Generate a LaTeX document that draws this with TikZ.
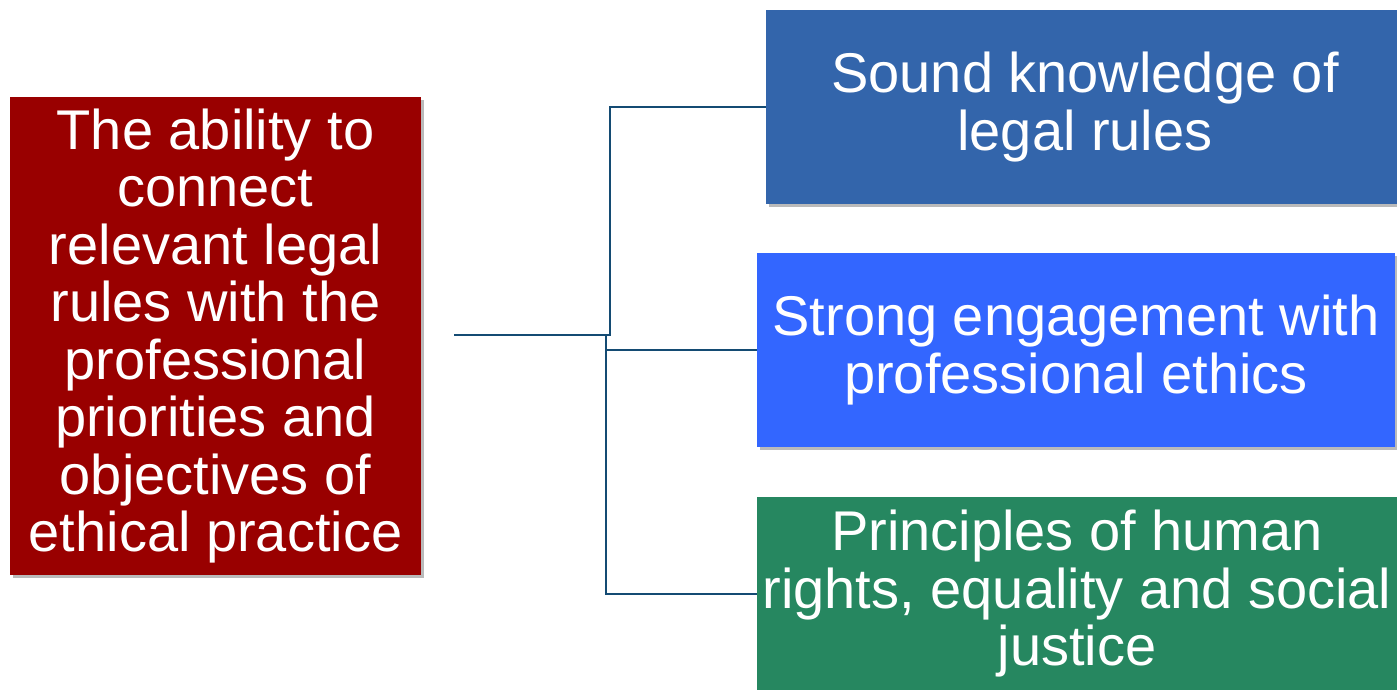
\documentclass[tikz,border=0pt]{standalone}
\usepackage{fontspec}
\setmainfont{Liberation Sans}
\usetikzlibrary{shadows}
\definecolor{boxred}{RGB}{153,0,0}
\definecolor{boxblueA}{RGB}{51,101,171}
\definecolor{boxblueB}{RGB}{51,102,255}
\definecolor{boxgreen}{RGB}{38,135,96}
\definecolor{connblue}{RGB}{20,75,115}
\tikzset{
  cardbox/.style={rectangle, inner sep=0pt, text=white, align=center,
    font=\fontsize{56}{57.5}\selectfont,
    drop shadow={shadow xshift=3pt, shadow yshift=-3pt, opacity=0.45, fill=black!60}},
  conn/.style={draw=connblue, line width=2pt}
}
\begin{document}
\begin{tikzpicture}[x=1pt,y=-1pt]
\useasboundingbox (0,0) rectangle (1397,690);
\clip (0,0) rectangle (1397,690);
\node[cardbox, fill=boxred, minimum width=411pt, minimum height=478pt] (src) at (215.5,336)
  {The ability to\\connect\\relevant legal\\rules with the\\professional\\priorities and\\objectives of\\ethical practice};
\node[cardbox, fill=boxblueA, minimum width=638pt, minimum height=194pt] (b1) at (1085,107)
  {Sound knowledge of\\legal rules};
\node[cardbox, fill=boxblueB, minimum width=638pt, minimum height=194pt] (b2) at (1076,350)
  {Strong engagement with\\professional ethics};
\node[cardbox, fill=boxgreen, minimum width=640pt, minimum height=194pt] (b3) at (1077,594)
  {Principles of human\\rights, equality and social\\justice};
\coordinate (start) at (454,335);
\coordinate (ja) at (610,335);
\coordinate (jb) at (606,335);
\draw[conn] (start) -- (ja) |- (b1.west);
\draw[conn] (start) -- (jb) |- (b2.west);
\draw[conn] (jb) |- (b3.west);
\end{tikzpicture}
\end{document}
